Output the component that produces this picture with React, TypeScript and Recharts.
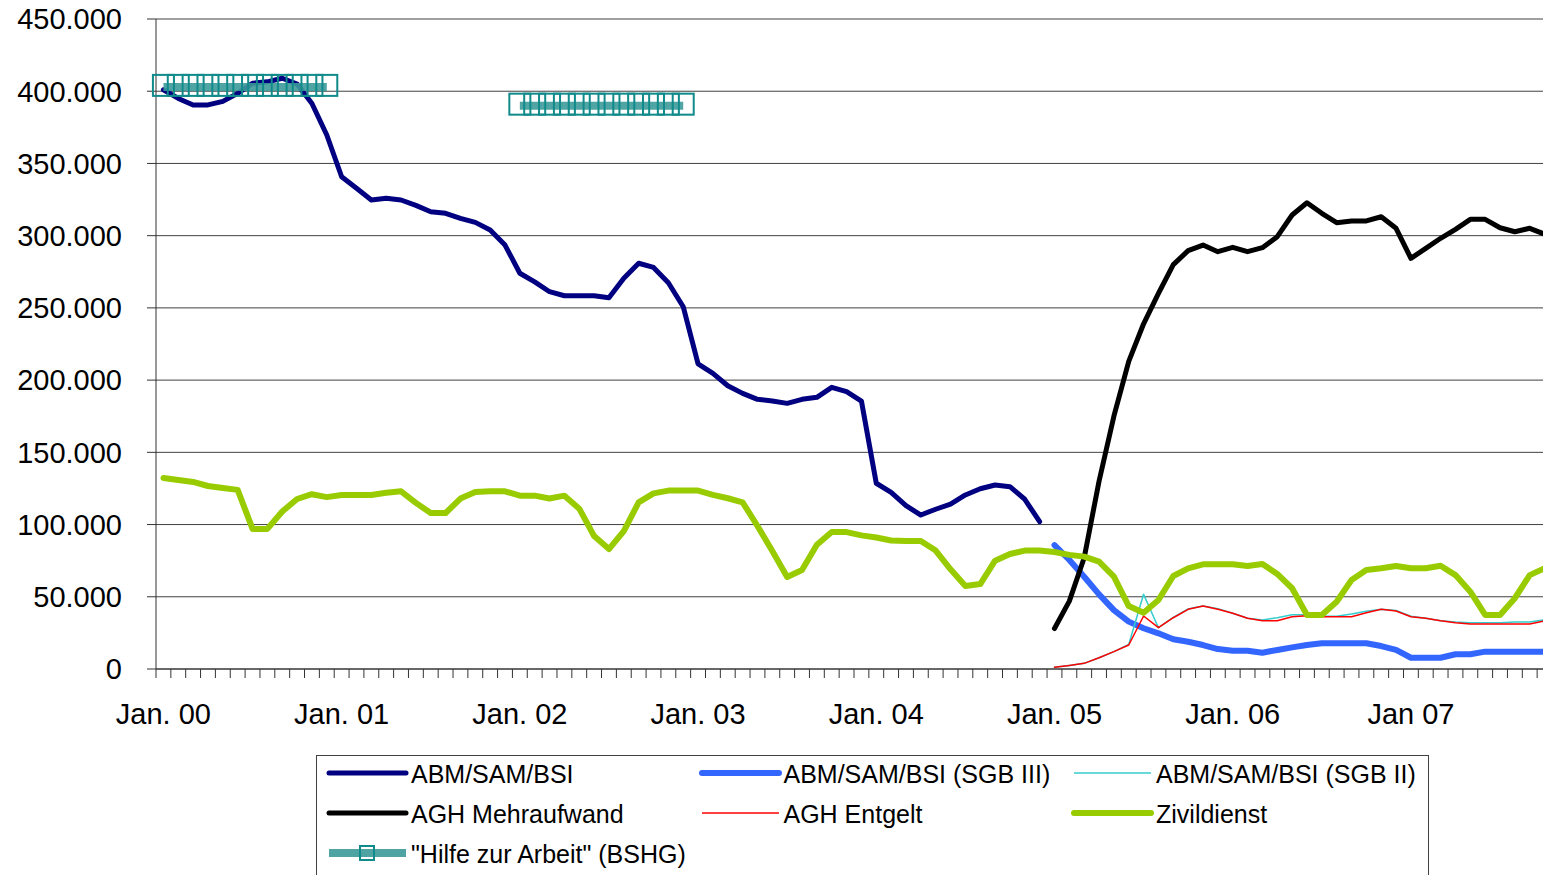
import React from 'react';
import { LineChart, Line, XAxis, YAxis, CartesianGrid, Legend } from 'recharts';

const FONT = '"Liberation Sans", Arial, Helvetica, sans-serif';

const yearLabels = ['Jan. 00', 'Jan. 01', 'Jan. 02', 'Jan. 03', 'Jan. 04', 'Jan. 05', 'Jan. 06', 'Jan 07'];
const yTicks = [0, 50000, 100000, 150000, 200000, 250000, 300000, 350000, 400000, 450000];

// Jan 2000 - Dec 2004
const abmBsi = [
  401000, 395000, 390500, 390500, 393000, 398500, 405500, 406500, 409000, 405000, 391500, 369700,
  340800, 332800, 324700, 325900, 324700, 321000, 316600, 315500, 312000, 309200, 303900, 293500,
  274000, 268000, 261200, 258400, 258400, 258400, 257000, 270500, 280900, 278000, 267400, 250800,
  211200, 204700, 196100, 190800, 186700, 185500, 183900, 186700, 188100, 195000, 192000, 185500,
  128600, 122300, 113100, 106600, 110600, 114200, 120500, 124800, 127400, 126200, 117500, 102000,
];

// Jan 2005 - Oct 2007
const abmSgb3 = [
  85800, 75500, 63900, 51700, 40800, 32800, 28200, 24700, 20600, 18900, 16600, 13800,
  12700, 12700, 11300, 13200, 15000, 16600, 17800, 17800, 17800, 17800, 15900, 13200,
  7800, 7800, 7800, 10200, 10200, 12000, 12000, 12000, 12000, 12000,
];
const abmSgb2 = [
  1200, 2500, 3900, 7800, 12000, 17000, 51700, 28600, 35800, 41600, 43600, 41800,
  38600, 35100, 34000, 35500, 37500, 37500, 36500, 36500, 38000, 40000, 41300, 40500,
  36500, 35100, 33400, 32500, 32000, 32000, 32000, 32500, 32500, 34000,
];
const aghMehraufwand = [
  28000, 47000, 77000, 130000, 175000, 213000, 239000, 260000, 280000, 289600, 293500, 288900,
  291900, 288900, 291700, 299300, 314300, 322800, 315500, 309000, 310200, 310200, 313100, 305100,
  284300, 291200, 298200, 304400, 311300, 311300, 305500, 302700, 305100, 301100,
];
const aghEntgelt = [
  1200, 2500, 3900, 7800, 12000, 16600, 36700, 28600, 35500, 41300, 43600, 41300,
  38600, 35100, 33400, 33400, 36200, 36900, 36200, 36200, 36200, 39000, 41300, 40200,
  36200, 35100, 33400, 32100, 31200, 31200, 31200, 31200, 31200, 33200,
];

// Jan 2000 - Oct 2007
const zivildienst = [
  132200, 130800, 129500, 126700, 125300, 124000, 97000, 97000, 109000, 117700, 121000, 119000,
  120500, 120500, 120500, 122000, 123000, 115000, 108000, 108000, 118000, 122500, 123000, 123000,
  120000, 120000, 118000, 120000, 111000, 92000, 83000, 95500, 115400, 121600, 123500, 123500,
  123500, 120500, 118200, 115400, 99000, 81700, 63700, 68500, 86000, 94800, 94800, 92500,
  91000, 89000, 88600, 88600, 82000, 69000, 57500, 58800, 75000, 79600, 82000, 82000,
  81000, 79000, 77800, 74300, 63900, 43600, 39000, 47800, 64400, 69700, 72500, 72500,
  72500, 71300, 72700, 65800, 55900, 37400, 37400, 46600, 61600, 68500, 69700, 71300,
  69700, 69700, 71500, 65000, 53500, 37400, 37400, 49000, 65000, 69700,
];

// "Hilfe zur Arbeit": Jan-Dec 2000 and Jan-Dec 2002
const hilfe2000 = [403000, 403000, 403000, 403000, 403000, 403000, 403000, 403000, 403000, 403000, 403000, 403000];
const hilfe2002 = [390000, 390000, 390000, 390000, 390000, 390000, 390000, 390000, 390000, 390000, 390000, 390000];

const sgbStart = abmBsi.length;
const monthCount = zivildienst.length;

const rows = zivildienst.map((z, i) => ({
  x: i + 0.5,
  abm: i < sgbStart ? abmBsi[i] : null,
  sgb3: i >= sgbStart ? abmSgb3[i - sgbStart] : null,
  sgb2: i >= sgbStart ? abmSgb2[i - sgbStart] : null,
  mehr: i >= sgbStart ? aghMehraufwand[i - sgbStart] : null,
  entgelt: i >= sgbStart ? aghEntgelt[i - sgbStart] : null,
  zivi: z,
  hilfe: i < 12 ? hilfe2000[i] : i >= 24 && i < 36 ? hilfe2002[i - 24] : null,
}));

const monthTicks = Array.from({ length: monthCount + 1 }, (_, i) => i);
const yearTicks = yearLabels.map((_, k) => k * 12 + 0.5);

const series = [
  { key: 'abm', name: 'ABM/SAM/BSI', color: '#000080', width: 5 },
  { key: 'sgb3', name: 'ABM/SAM/BSI (SGB III)', color: '#3366FF', width: 6 },
  { key: 'sgb2', name: 'ABM/SAM/BSI (SGB II)', color: '#33CCCC', width: 1.5 },
  { key: 'mehr', name: 'AGH Mehraufwand', color: '#000000', width: 5 },
  { key: 'entgelt', name: 'AGH Entgelt', color: '#FF0000', width: 1.5 },
  { key: 'zivi', name: 'Zivildienst', color: '#99CC00', width: 6 },
];
const hilfeName = '"Hilfe zur Arbeit" (BSHG)';

const fmt = (v: number) => (v === 0 ? '0' : `${v / 1000}.000`);

const HilfeDot = (props: any) => {
  const { cx, cy, index, value } = props;
  if (value == null || cy == null) return <g key={`hd-${index}`} />;
  return (
    <rect key={`hd-${index}`} x={cx - 10.5} y={cy - 12} width={21} height={21}
      fill="none" stroke="#108a8a" strokeWidth={2} />
  );
};

const LegendBox = () => {
  const items = [...series.map(s => ({ ...s, hilfe: false })), { key: 'hilfe', name: hilfeName, color: '#3d9a9a', width: 8, hilfe: true }];
  return (
    <div style={{ position: 'relative', width: 1113, height: 140, border: '1px solid #404040', boxSizing: 'border-box', background: '#fff', fontFamily: FONT }}>
      {items.map((it, k) => (
        <div key={it.key} style={{ position: 'absolute', left: 9 + (k % 3) * 372.5, top: (Math.floor(k / 3)) * 40 - 2, height: 40, display: 'flex', alignItems: 'center', whiteSpace: 'nowrap' }}>
          <svg width={84} height={40}>
            <line x1={3} x2={80} y1={19} y2={19} stroke={it.color} strokeWidth={it.width}
              strokeLinecap={it.width > 2 && !it.hilfe ? 'round' : 'butt'} opacity={it.hilfe ? 0.9 : 1} />
            {it.hilfe && <rect x={34} y={12} width={14} height={14} fill="none" stroke="#108a8a" strokeWidth={2} />}
          </svg>
          <span style={{ fontSize: 25, color: '#000', marginLeft: 1, lineHeight: '40px' }}>{it.name}</span>
        </div>
      ))}
    </div>
  );
};

export default function App() {
  return (
    <div style={{ position: 'fixed', left: 0, top: 0, width: 1543, height: 875, overflow: 'hidden', background: '#fff', fontFamily: FONT }}>
      <LineChart width={1560} height={900} data={rows} margin={{ top: 19, right: 8, left: 0, bottom: 161 }}>
        <CartesianGrid xAxisId="a" vertical={false} stroke="#404040" strokeWidth={1} />
        <XAxis xAxisId="a" dataKey="x" type="number" domain={[0, monthCount]} ticks={monthTicks}
          interval={0} tickFormatter={() => ''} tick={{ fontSize: 1 }} tickSize={9} tickMargin={0} height={10}
          stroke="#333" tickLine={{ stroke: '#333' }} />
        <XAxis xAxisId="b" dataKey="x" type="number" domain={[0, monthCount]} ticks={yearTicks}
          interval={0} axisLine={false} tickLine={false} tickSize={0} tickMargin={24} height={60}
          tickFormatter={(v: number) => yearLabels[Math.round((v - 0.5) / 12)] ?? ''}
          tick={{ fontSize: 29, fill: '#000', fontFamily: FONT }} />
        <YAxis width={156} domain={[0, 450000]} ticks={yTicks} interval={0} tickSize={9} tickMargin={25}
          stroke="#333" tickLine={{ stroke: '#333' }} tickFormatter={fmt}
          tick={{ fontSize: 29, fill: '#000', fontFamily: FONT }} />
        {series.map(s => (
          <Line key={s.key} xAxisId="a" type="linear" dataKey={s.key} name={s.name} stroke={s.color}
            strokeWidth={s.width} dot={false} activeDot={false} strokeLinejoin="round"
            strokeLinecap="round" isAnimationActive={false} connectNulls={false} />
        ))}
        <Line xAxisId="a" type="linear" dataKey="hilfe" name={hilfeName} stroke="#3d9a9a" strokeOpacity={0.9}
          strokeWidth={8} dot={HilfeDot} activeDot={false} isAnimationActive={false} connectNulls={false} />
        <Legend layout="horizontal" verticalAlign="middle" align="center" content={() => <LegendBox />}
          wrapperStyle={{ left: 316, top: 755, width: 1113, height: 140 }} />
      </LineChart>
    </div>
  );
}
